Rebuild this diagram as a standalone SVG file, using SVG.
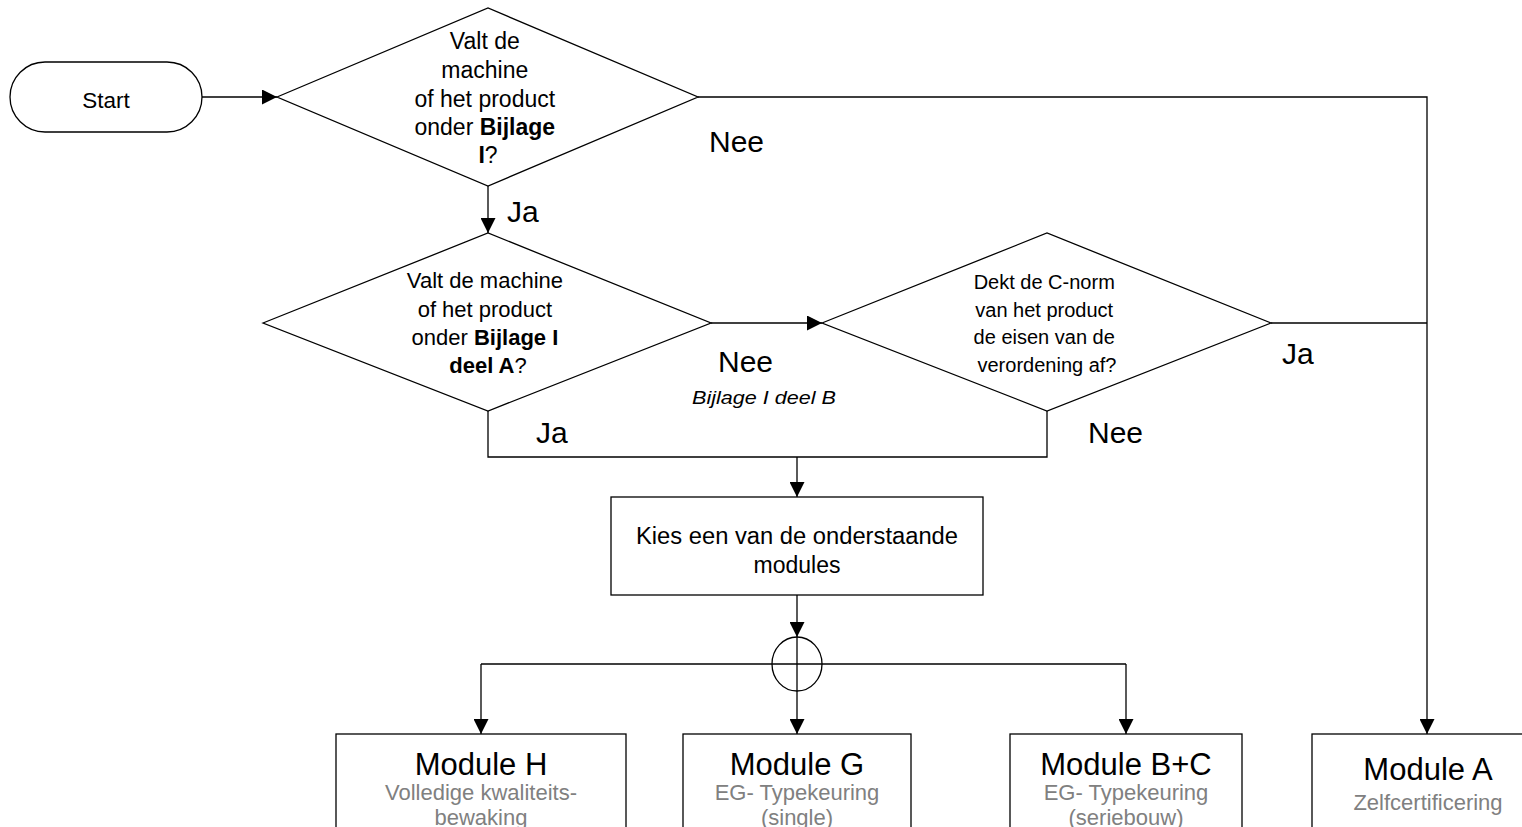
<svg xmlns="http://www.w3.org/2000/svg" width="1522" height="827" viewBox="0 0 1522 827">
<defs>
<style>
.s{fill:#fff;stroke:#000;stroke-width:1.3}
.c{fill:none;stroke:#000;stroke-width:1.3}
.t{font-family:"Liberation Sans",Arial,sans-serif;fill:#000}
.m{text-anchor:middle}
.lbl{font-size:30px}
.ttl{font-size:31px}
.g{fill:#808080;font-size:22px}
.b{font-weight:bold}
</style>
<marker id="arr" viewBox="0 0 15 15" refX="15" refY="7.5" markerWidth="15" markerHeight="15" orient="auto" markerUnits="userSpaceOnUse"><path d="M0,0 L15,7.5 L0,15 z" fill="#000"/></marker>
</defs>
<rect width="1522" height="827" fill="#fff"/>

<g id="connectors">
<path class="c" d="M202,97 L277,97" marker-end="url(#arr)"/>
<path class="c" d="M698,97 L1427,97 L1427,734" marker-end="url(#arr)"/>
<path class="c" d="M488,186 L488,233" marker-end="url(#arr)"/>
<path class="c" d="M711,323 L822,323" marker-end="url(#arr)"/>
<path class="c" d="M1271,323 L1427,323"/>
<path class="c" d="M488,411 L488,457 L1047,457 L1047,411"/>
<path class="c" d="M797,457 L797,497" marker-end="url(#arr)"/>
<path class="c" d="M797,595 L797,637" marker-end="url(#arr)"/>
<path class="c" d="M797,637 L797,734" marker-end="url(#arr)"/>
<path class="c" d="M481,664 L1126,664"/>
<path class="c" d="M481,664 L481,734" marker-end="url(#arr)"/>
<path class="c" d="M1126,664 L1126,734" marker-end="url(#arr)"/>
<ellipse class="c" cx="797" cy="664" rx="25" ry="27"/>
<text class="t lbl" x="709" y="152">Nee</text>
<text class="t lbl" x="507" y="222">Ja</text>
<text class="t lbl" x="718" y="372">Nee</text>
<text class="t" x="692" y="404" font-size="19" font-style="italic" textLength="144" lengthAdjust="spacingAndGlyphs">Bijlage I deel B</text>
<text class="t lbl" x="1282" y="364">Ja</text>
<text class="t lbl" x="536" y="443">Ja</text>
<text class="t lbl" x="1088" y="443">Nee</text>
</g>

<g id="start">
<rect class="s" x="10" y="62" width="192" height="70" rx="35" ry="35"/>
<text class="t m" x="106" y="108" font-size="22.5">Start</text>
</g>

<g id="d1">
<polygon class="s" points="277,97 488,8 698,97 488,186"/>
<text class="t m" font-size="23">
<tspan x="488" y="49">Valt de</tspan>
<tspan x="488" y="78">machine</tspan>
<tspan x="488" y="107">of het product</tspan>
<tspan x="488" y="135">onder <tspan class="b">Bijlage</tspan></tspan>
<tspan x="488" y="163"><tspan class="b">I</tspan>?</tspan>
</text>
</g>

<g id="d2">
<polygon class="s" points="263,323 488,233 711,323 488,411"/>
<text class="t m" font-size="22">
<tspan x="488" y="288">Valt de machine</tspan>
<tspan x="488" y="317">of het product</tspan>
<tspan x="488" y="345">onder <tspan class="b">Bijlage I</tspan></tspan>
<tspan x="488" y="373"><tspan class="b">deel A</tspan>?</tspan>
</text>
</g>

<g id="d3">
<polygon class="s" points="822,323 1047,233 1271,323 1047,411"/>
<text class="t m" font-size="20">
<tspan x="1047" y="289">Dekt de C-norm</tspan>
<tspan x="1047" y="317">van het product</tspan>
<tspan x="1047" y="344">de eisen van de</tspan>
<tspan x="1047" y="372">verordening af?</tspan>
</text>
</g>

<g id="kies">
<rect class="s" x="611" y="497" width="372" height="98"/>
<text class="t m" font-size="23" x="797" y="544" textLength="322" lengthAdjust="spacingAndGlyphs">Kies een van de onderstaande</text>
<text class="t m" font-size="23" x="797" y="573">modules</text>
</g>

<g id="modH">
<rect class="s" x="336" y="734" width="290" height="110"/>
<text class="t m ttl" x="481" y="775">Module H</text>
<text class="t m g"><tspan x="481" y="800">Volledige kwaliteits-</tspan><tspan x="481" y="825">bewaking</tspan></text>
</g>

<g id="modG">
<rect class="s" x="683" y="734" width="228" height="110"/>
<text class="t m ttl" x="797" y="775">Module G</text>
<text class="t m g"><tspan x="797" y="800">EG- Typekeuring</tspan><tspan x="797" y="825">(single)</tspan></text>
</g>

<g id="modBC">
<rect class="s" x="1010" y="734" width="232" height="110"/>
<text class="t m ttl" x="1126" y="775">Module B+C</text>
<text class="t m g"><tspan x="1126" y="800">EG- Typekeuring</tspan><tspan x="1126" y="825">(seriebouw)</tspan></text>
</g>

<g id="modA">
<rect class="s" x="1312" y="734" width="232" height="110"/>
<text class="t m ttl" x="1428" y="780">Module A</text>
<text class="t m g" x="1428" y="810">Zelfcertificering</text>
</g>
</svg>
